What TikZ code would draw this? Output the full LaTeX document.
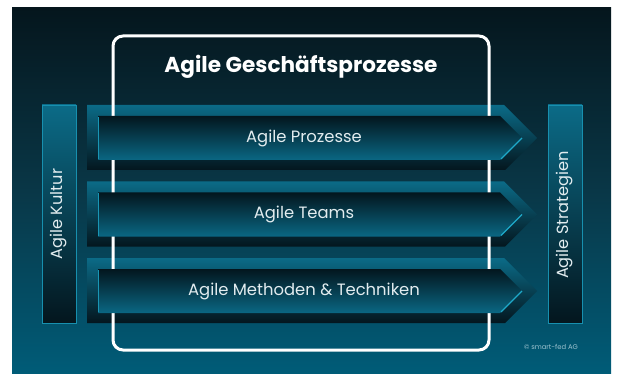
\documentclass[tikz,border=0pt]{standalone}
\usepackage{fontspec}
\setmainfont{Poppins}
\definecolor{bgtop}{HTML}{05161D}
\definecolor{bgmid}{HTML}{093747}
\definecolor{bgbot}{HTML}{005C78}
\definecolor{bandtop}{HTML}{0B6B87}
\definecolor{bandbot}{HTML}{04161E}
\definecolor{arrtop}{HTML}{03161E}
\definecolor{arrbot}{HTML}{0A6783}
\definecolor{glow}{HTML}{1FA9C9}
\definecolor{labeltext}{HTML}{E2ECEF}
\definecolor{notetext}{HTML}{9CC2CE}
\tikzset{
  panel/.style={top color=bgtop,bottom color=bgbot,middle color=bgmid},
  frame/.style={draw=white,line width=3pt,rounded corners=10pt},
  backband/.style={top color=bandtop,bottom color=bandbot},
  frontarrow/.style={top color=arrtop,bottom color=arrbot},
  sidebar/.style={top color=bandtop,bottom color=bandbot,draw=glow!60!bandtop,line width=0.8pt},
  edgeglow/.style={draw=glow,line width=1.2pt},
  rowlabel/.style={text=labeltext,font=\fontsize{16.4}{19}\selectfont},
  barlabel/.style={text=labeltext,font=\fontsize{16.2}{19}\selectfont,rotate=90},
  titlelabel/.style={text=white,font=\fontsize{21.6}{25}\selectfont\bfseries}
}
\begin{document}
\begin{tikzpicture}[x=1pt,y=-1pt]
\useasboundingbox (0,0) rectangle (618,374);
\shade[panel] (12,8) rectangle (611,374);

\foreach \t in {105,181.5,258}
  \shade[backband] (87,\t) -- (504,\t) -- (537,\t+33) -- (505,\t+65) -- (87,\t+65) -- cycle;

\draw[frame] (113,36) rectangle (489,350);
\node[titlelabel] (title) at (301,67) {Agile Geschäftsprozesse};

\foreach \t/\lbl [count=\i] in {105/Agile Prozesse,181.5/Agile Teams,258/Agile Methoden \& Techniken}{
  \shade[frontarrow] (98,\t+11) -- (500,\t+11) -- (522,\t+33) -- (500,\t+55) -- (98,\t+55) -- cycle;
  \draw[edgeglow] (522,\t+33) -- (501,\t+54);
  \draw[draw=glow!70!bandtop,line width=0.8pt] (98.5,\t+12) -- (98.5,\t+54);
  \node[rowlabel] (row\i) at (304,\t+33) {\lbl};
}

\shade[sidebar] (42,105) rectangle (76,323);
\shade[sidebar] (548,105) rectangle (582,323);
\node[barlabel] (kultur) at (59,214) {Agile Kultur};
\node[barlabel] (strategien) at (565,215) {Agile Strategien};

\node[text=notetext,font=\fontsize{6.8}{8}\selectfont] (note) at (551,347) {© smart-fed AG};
\end{tikzpicture}
\end{document}
